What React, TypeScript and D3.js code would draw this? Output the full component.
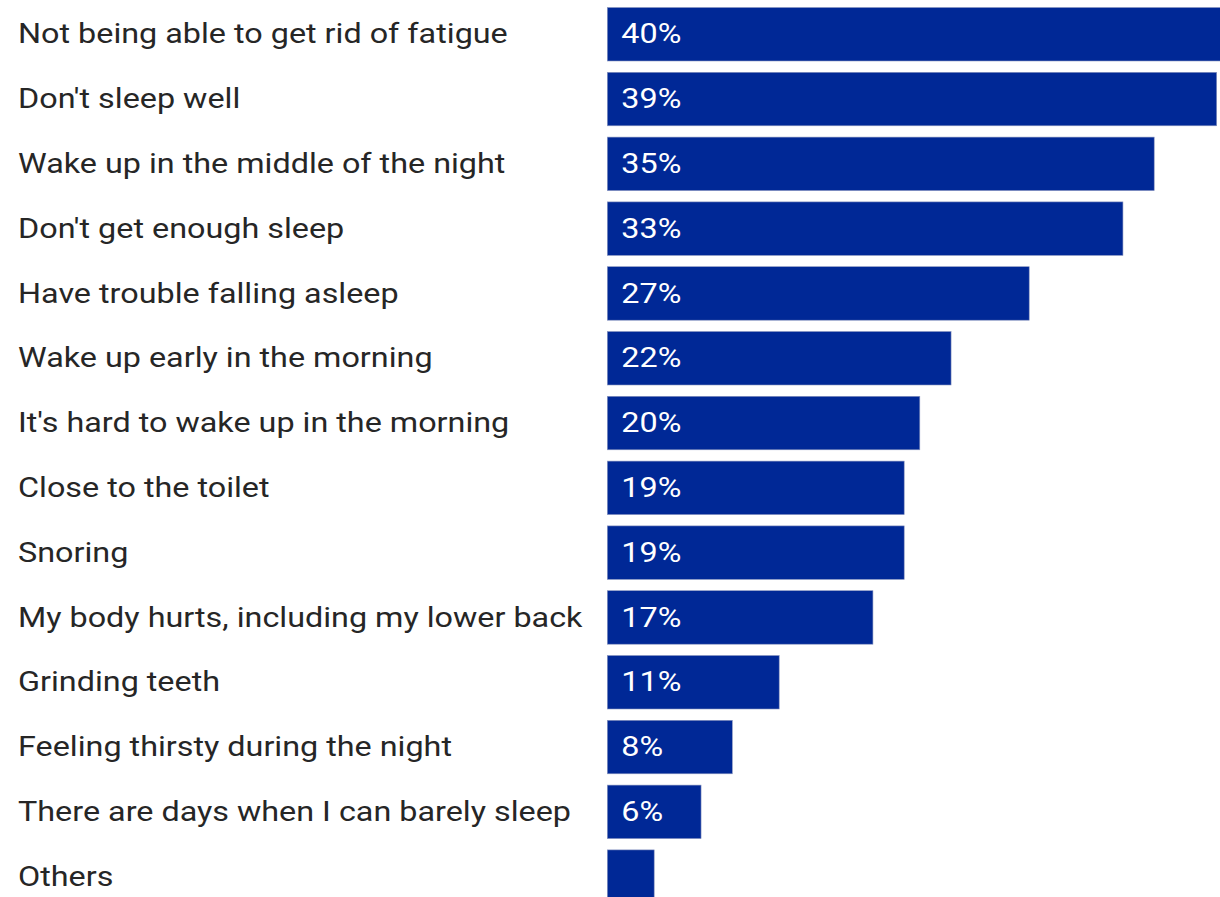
import React from "react";
import * as d3 from "d3";

const categories = [
  "Not being able to get rid of fatigue",
  "Don't sleep well",
  "Wake up in the middle of the night",
  "Don't get enough sleep",
  "Have trouble falling asleep",
  "Wake up early in the morning",
  "It's hard to wake up in the morning",
  "Close to the toilet",
  "Snoring",
  "My body hurts, including my lower back",
  "Grinding teeth",
  "Feeling thirsty during the night",
  "There are days when I can barely sleep",
  "Others",
];
const values = [40, 39, 35, 33, 27, 22, 20, 19, 19, 17, 11, 8, 6, 3];
const showLabel = [true, true, true, true, true, true, true, true, true, true, true, true, true, false];

const W = 1220;
const H = 897;

export default function App() {
  const x = d3.scaleLinear().domain([0, 39]).range([607.3, 1216.7]);
  const step = 64.8;
  const bh = 53.5;
  const y0 = 7.5;
  const sx = 1.155;
  const font = "Roboto, 'Noto Sans', sans-serif";
  return (
    <svg
      width={W}
      height={H}
      style={{ position: "absolute", left: 0, top: 0, background: "#fff" }}
    >
      {categories.map((c, i) => {
        const top = y0 + i * step;
        const cy = top + bh / 2;
        const lx = 18;
        const vx = x(0) + 14;
        return (
          <g key={c}>
            <g transform={`translate(${lx},${cy}) scale(${sx},1)`}>
              <text
                x={0}
                y={0}
                dy="0.33em"
                fontFamily={font}
                fontSize={28}
                fill="#262626"
              >
                {c}
              </text>
            </g>
            <rect
              x={x(0)}
              y={top}
              width={x(values[i]) - x(0)}
              height={bh}
              fill="#002896"
              stroke="#8a96c0"
              strokeWidth={0.6}
            />
            {showLabel[i] && (
              <g transform={`translate(${vx},${cy}) scale(${sx},1)`}>
                <text
                  x={0}
                  y={0}
                  dy="0.33em"
                  fontFamily={font}
                  fontSize={28}
                  fill="#fff"
                >
                  {values[i]}%
                </text>
              </g>
            )}
          </g>
        );
      })}
    </svg>
  );
}
